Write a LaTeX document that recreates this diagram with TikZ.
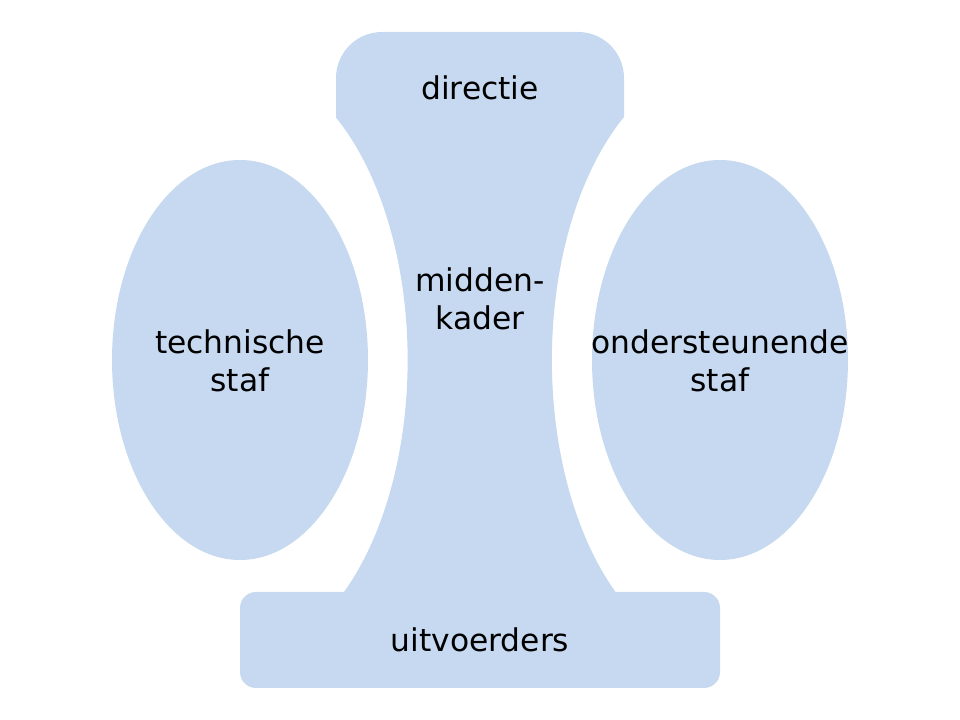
\documentclass[tikz,border=0pt]{standalone}
\usepackage{fontspec}
\setmainfont{DejaVu Sans}
\definecolor{partfill}{RGB}{198,217,240}
\begin{document}
\begin{tikzpicture}[x=0.75pt,y=0.75pt,
  part/.style={fill=partfill,draw=none},
  lbl/.style={font=\fontsize{23.5pt}{28.5pt}\selectfont,align=center,text=black,inner sep=0pt}]
\useasboundingbox (0,0) rectangle (960,720);
% ellipses
\fill[part] (240,360) ellipse[x radius=96pt,y radius=150pt];
\fill[part] (720,360) ellipse[x radius=96pt,y radius=150pt];
% middle shape (directie + middenkader)
\fill[part] (336,603) -- (336,642) arc[start angle=180,end angle=90,radius=34.5pt]
  -- (578,688) arc[start angle=90,end angle=0,radius=34.5pt]
  -- (624,603) arc[start angle=124.8,end angle=231.6,x radius=126pt,y radius=222pt]
  -- (616,110) -- (344,110) -- (344,128)
  arc[start angle=-51.6,end angle=55.2,x radius=126pt,y radius=222pt] -- cycle;
% bottom rectangle
\fill[part,rounded corners=12pt] (240,32) rectangle (720,128);
% labels
\node[lbl] (directie) at (480,632) {directie};
\node[lbl] (midden) at (480,421) {midden-\\kader};
\node[lbl] (tech) at (240,359) {technische\\staf};
\node[lbl] (onder) at (720,359) {ondersteunende\\staf};
\node[lbl] (uitv) at (480,80) {uitvoerders};
\end{tikzpicture}
\end{document}
